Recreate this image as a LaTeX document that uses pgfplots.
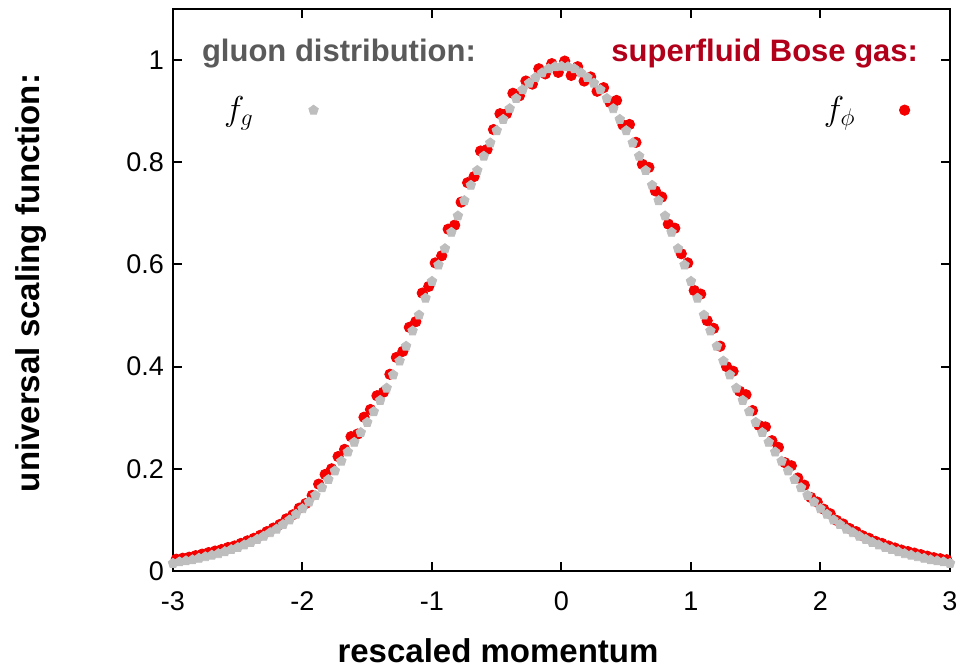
\documentclass[border=0pt]{standalone}
\usepackage[no-math]{fontspec}
\setmainfont{Liberation Sans}
\usepackage{pgfplots}
\usepackage{pgfplotstable}
\pgfplotsset{compat=1.18}
\definecolor{gluongray}{RGB}{190,190,190}
\definecolor{headgray}{RGB}{90,90,90}
\definecolor{headred}{RGB}{178,0,26}
\definecolor{dotred}{RGB}{245,0,0}

\pgfplotstableread{
x y
-3.00 0.015
-2.95 0.018
-2.90 0.020
-2.85 0.022
-2.80 0.025
-2.75 0.028
-2.70 0.031
-2.65 0.034
-2.60 0.038
-2.55 0.042
-2.50 0.046
-2.45 0.051
-2.40 0.056
-2.35 0.062
-2.30 0.068
-2.25 0.075
-2.20 0.082
-2.15 0.091
-2.10 0.100
-2.05 0.111
-2.00 0.122
-1.95 0.135
-1.90 0.148
-1.85 0.163
-1.80 0.179
-1.75 0.196
-1.70 0.215
-1.65 0.233
-1.60 0.252
-1.55 0.271
-1.50 0.291
-1.45 0.312
-1.40 0.334
-1.35 0.358
-1.30 0.384
-1.25 0.411
-1.20 0.440
-1.15 0.470
-1.10 0.501
-1.05 0.534
-1.00 0.567
-0.95 0.599
-0.90 0.631
-0.85 0.663
-0.80 0.695
-0.75 0.725
-0.70 0.755
-0.65 0.784
-0.60 0.812
-0.55 0.838
-0.50 0.862
-0.45 0.884
-0.40 0.905
-0.35 0.925
-0.30 0.942
-0.25 0.955
-0.20 0.966
-0.15 0.975
-0.10 0.983
-0.05 0.987
0.00 0.988
0.05 0.987
0.10 0.983
0.15 0.975
0.20 0.966
0.25 0.955
0.30 0.942
0.35 0.925
0.40 0.905
0.45 0.884
0.50 0.862
0.55 0.838
0.60 0.812
0.65 0.784
0.70 0.755
0.75 0.725
0.80 0.695
0.85 0.663
0.90 0.631
0.95 0.599
1.00 0.567
1.05 0.534
1.10 0.501
1.15 0.470
1.20 0.440
1.25 0.411
1.30 0.384
1.35 0.358
1.40 0.334
1.45 0.312
1.50 0.291
1.55 0.271
1.60 0.252
1.65 0.233
1.70 0.215
1.75 0.196
1.80 0.179
1.85 0.163
1.90 0.148
1.95 0.135
2.00 0.122
2.05 0.111
2.10 0.100
2.15 0.091
2.20 0.082
2.25 0.075
2.30 0.068
2.35 0.062
2.40 0.056
2.45 0.051
2.50 0.046
2.55 0.042
2.60 0.038
2.65 0.034
2.70 0.031
2.75 0.028
2.80 0.025
2.85 0.022
2.90 0.020
2.95 0.018
3.00 0.015
}\gluon

\pgfplotstableread{
x y
-2.975 0.023
-2.925 0.025
-2.875 0.027
-2.825 0.030
-2.775 0.033
-2.725 0.036
-2.675 0.039
-2.625 0.042
-2.575 0.046
-2.525 0.049
-2.475 0.054
-2.425 0.059
-2.375 0.064
-2.325 0.070
-2.275 0.077
-2.225 0.084
-2.175 0.091
-2.125 0.102
-2.075 0.110
-2.025 0.123
-1.975 0.132
-1.925 0.148
-1.875 0.170
-1.825 0.189
-1.775 0.200
-1.725 0.224
-1.675 0.238
-1.625 0.263
-1.575 0.268
-1.525 0.301
-1.475 0.316
-1.425 0.343
-1.375 0.350
-1.325 0.385
-1.275 0.418
-1.225 0.430
-1.175 0.477
-1.125 0.488
-1.075 0.544
-1.025 0.557
-0.975 0.603
-0.925 0.617
-0.875 0.669
-0.825 0.677
-0.775 0.722
-0.725 0.760
-0.675 0.772
-0.625 0.822
-0.575 0.825
-0.525 0.864
-0.475 0.895
-0.425 0.895
-0.375 0.935
-0.325 0.930
-0.275 0.959
-0.225 0.953
-0.175 0.983
-0.125 0.973
-0.075 0.993
-0.025 0.976
0.025 0.998
0.075 0.970
0.125 0.987
0.175 0.959
0.225 0.967
0.275 0.939
0.325 0.946
0.375 0.917
0.425 0.921
0.475 0.873
0.525 0.874
0.575 0.839
0.625 0.796
0.675 0.790
0.725 0.744
0.775 0.732
0.825 0.679
0.875 0.671
0.925 0.621
0.975 0.603
1.025 0.549
1.075 0.542
1.125 0.490
1.175 0.475
1.225 0.440
1.275 0.400
1.325 0.391
1.375 0.352
1.425 0.345
1.475 0.314
1.525 0.285
1.575 0.282
1.625 0.255
1.675 0.242
1.725 0.212
1.775 0.206
1.825 0.182
1.875 0.168
1.925 0.144
1.975 0.135
2.025 0.121
2.075 0.112
2.125 0.099
2.175 0.092
2.225 0.083
2.275 0.077
2.325 0.069
2.375 0.064
2.425 0.058
2.475 0.054
2.525 0.049
2.575 0.045
2.625 0.041
2.675 0.038
2.725 0.035
2.775 0.032
2.825 0.029
2.875 0.026
2.925 0.024
2.975 0.022
}\bose

\pgfplotsset{
  common/.style={
    at={(0,0)}, anchor=south west,
    scale only axis, width=388.5pt, height=281pt,
    xmin=-3, xmax=3, ymin=0, ymax=1.1,
    legend plot pos=right,
  },
}

\begin{document}
\begin{tikzpicture}
\path[use as bounding box] (-86.5pt,-49pt) rectangle (393pt,285.5pt);
\begin{axis}[common,
  axis line style={line width=1.1pt},
  every tick/.style={black, line width=1pt},
  major tick length=4.5pt,
  xtick={-3,-2,-1,0,1,2,3},
  ytick={0,0.2,0.4,0.6,0.8,1},
  /pgf/number format/assume math mode=true,
  tick label style={font=\fontsize{13.5}{16}\selectfont},
  xticklabel style={yshift=-7pt},
  yticklabel style={xshift=-1pt},
  legend style={at={(rel axis cs:0.832,0.82)}, anchor=west, draw=none, fill=none,
    font=\fontsize{18}{21}\selectfont, inner sep=0pt,
    /tikz/every odd column/.append style={column sep=20pt},
    /tikz/every even column/.append style={column sep=0pt}},
]
\addplot[only marks, mark=*, mark size=2.6pt, color=dotred] table {\bose};
\addlegendentry{$f_\phi$}
\node[anchor=base west, text=headgray, font=\fontsize{15.5}{18}\selectfont\bfseries] at (rel axis cs:0.0283,0.9057) {gluon distribution:};
\node[anchor=base east, text=headred, font=\fontsize{15.5}{18}\selectfont\bfseries] at (rel axis cs:0.968,0.9057) {superfluid Bose gas:};
\end{axis}
\begin{axis}[common, hide axis,
  legend style={at={(rel axis cs:0.060,0.82)}, anchor=west, draw=none, fill=none,
    font=\fontsize{18}{21}\selectfont, inner sep=0pt,
    /tikz/every odd column/.append style={column sep=25.5pt},
    /tikz/every even column/.append style={column sep=0pt}},
]
\addplot[only marks, mark=pentagon*, mark size=2.5pt, color=gluongray] table {\gluon};
\addlegendentry{$f_g$}
\end{axis}
\node[rotate=90, anchor=center, font=\fontsize{16.5}{19}\selectfont\bfseries] at (-71pt,144pt) {universal scaling function:};
\node[anchor=base, font=\fontsize{16.5}{19}\selectfont\bfseries] at (162.5pt,-46pt) {rescaled momentum};
\end{tikzpicture}
\end{document}
